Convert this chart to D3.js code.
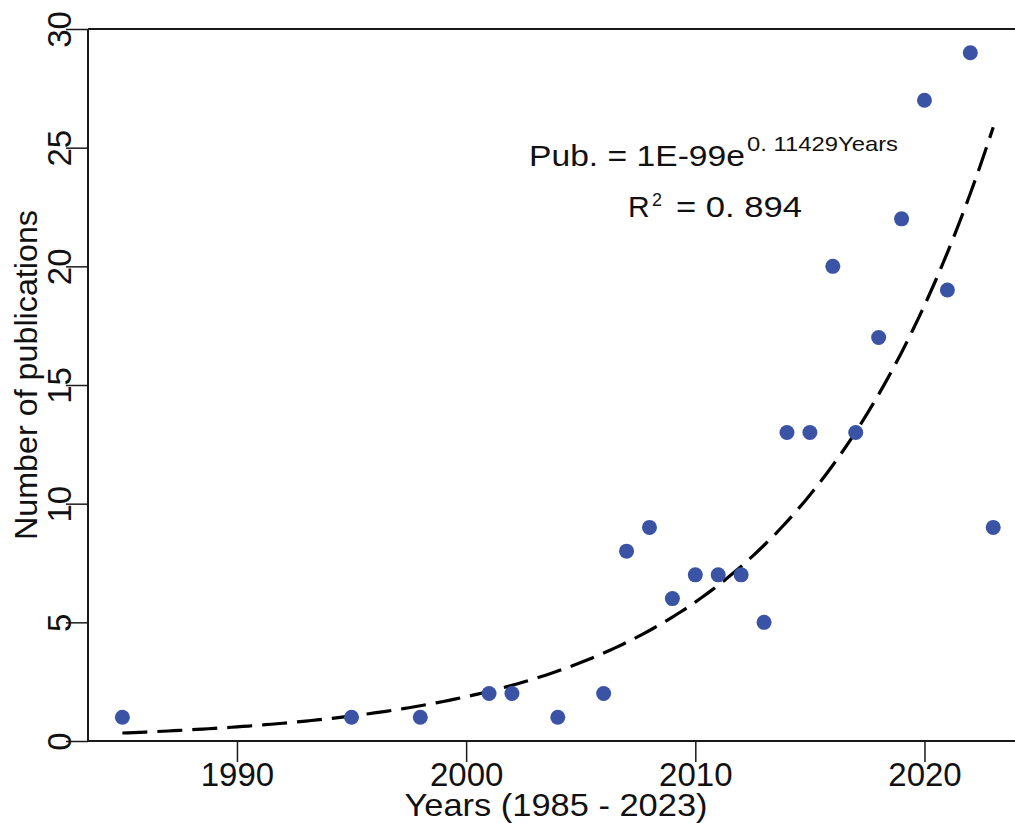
<!DOCTYPE html>
<html>
<head>
<meta charset="utf-8">
<script src="https://cdn.jsdelivr.net/npm/d3@7"></script>
<style>
  html, body { margin: 0; padding: 0; background: #fff; }
  svg { display: block; }
  text { font-family: "Liberation Sans", Arial, sans-serif; fill: #111; }
</style>
</head>
<body>
<svg id="chart" width="1015" height="823"></svg>
<script>
// Publications per year
const years = [1985, 1995, 1998, 2001, 2002, 2004, 2006, 2007, 2008, 2009, 2010, 2011,
               2012, 2013, 2014, 2015, 2016, 2017, 2018, 2019, 2020, 2021, 2022, 2023];
const publications = [1, 1, 1, 2, 2, 1, 2, 8, 9, 6, 7, 7,
                      7, 5, 13, 13, 20, 13, 17, 22, 27, 19, 29, 9];

// Exponential fit: Pub. = a * e^(b * Year)
const fitA = 1e-99;
const fitB = 0.11429;
const fitR2 = 0.894;

const xTicks = [1990, 2000, 2010, 2020];
const yTicks = [0, 5, 10, 15, 20, 25, 30];

const svg = d3.select("#chart");
const plotLeft = 88, plotRight = 1015, plotTop = 29, plotBottom = 741;

const x = d3.scaleLinear().domain([1983.5, 2023.95]).range([plotLeft, plotRight]);
const y = d3.scaleLinear().domain([0, 30]).range([plotBottom, plotTop]);

const axisColor = "#1a1a1a";
const fontStack = "'Liberation Sans', Arial, sans-serif";

// Frame: top edge
svg.append("line")
  .attr("x1", plotLeft).attr("x2", plotRight)
  .attr("y1", plotTop).attr("y2", plotTop)
  .attr("stroke", axisColor).attr("stroke-width", 2);

// X axis
const gx = svg.append("g").attr("transform", `translate(0,${plotBottom})`)
  .call(d3.axisBottom(x).tickValues(xTicks).tickFormat(d3.format("d"))
        .tickSize(21).tickSizeOuter(0));
gx.select(".domain").attr("stroke", axisColor).attr("stroke-width", 2)
  .attr("d", `M${plotLeft},0H${plotRight}`);
gx.selectAll(".tick line").attr("stroke", axisColor).attr("stroke-width", 1.5);
gx.selectAll(".tick text")
  .attr("y", 45).attr("dy", null)
  .style("font-size", "33px").style("font-family", fontStack)
  .attr("fill", "#111");

// Y axis
const gy = svg.append("g").attr("transform", `translate(${plotLeft},0)`)
  .call(d3.axisLeft(y).tickValues(yTicks).tickFormat(d3.format("d"))
        .tickSize(22).tickSizeOuter(0));
gy.select(".domain").attr("stroke", axisColor).attr("stroke-width", 2)
  .attr("d", `M0,${plotTop}V${plotBottom}`);
gy.selectAll(".tick line").attr("stroke", axisColor).attr("stroke-width", 1.5);
gy.selectAll(".tick text")
  .attr("x", null).attr("dy", null)
  .attr("text-anchor", "middle")
  .attr("transform", "translate(-17,0) rotate(-90)")
  .style("font-size", "33px").style("font-family", fontStack)
  .attr("fill", "#111");

// Axis titles
svg.append("text")
  .attr("x", 556).attr("y", 816)
  .attr("text-anchor", "middle")
  .style("font-size", "32px")
  .attr("textLength", 303).attr("lengthAdjust", "spacingAndGlyphs")
  .text("Years (1985 - 2023)");

svg.append("text")
  .attr("transform", "translate(37,375) rotate(-90)")
  .attr("text-anchor", "middle")
  .style("font-size", "32px")
  .attr("textLength", 330).attr("lengthAdjust", "spacingAndGlyphs")
  .text("Number of publications");

// Fitted trend curve
const fitYears = d3.range(1985, 2023.001, 0.25);
const fitLine = d3.line()
  .x(d => x(d))
  .y(d => y(Math.exp(Math.log(fitA) + fitB * d)));
svg.append("path")
  .datum(fitYears)
  .attr("d", fitLine)
  .attr("fill", "none")
  .attr("stroke", "#000")
  .attr("stroke-width", 3.2)
  .attr("stroke-dasharray", "25,10");

// Data points
svg.append("g").selectAll("circle")
  .data(years.map((yr, i) => ({ yr, v: publications[i] })))
  .join("circle")
  .attr("cx", d => x(d.yr))
  .attr("cy", d => y(d.v))
  .attr("r", 7.5)
  .attr("fill", "#3a53a5");

// Equation annotation
svg.append("text")
  .attr("x", 529).attr("y", 166)
  .style("font-size", "30px")
  .attr("textLength", 216).attr("lengthAdjust", "spacingAndGlyphs")
  .text("Pub. = 1E-99e");
svg.append("text")
  .attr("x", 747).attr("y", 151)
  .style("font-size", "21px")
  .attr("textLength", 151).attr("lengthAdjust", "spacingAndGlyphs")
  .text("0. " + String(fitB).split(".")[1] + "Years");

svg.append("text")
  .attr("x", 628).attr("y", 217)
  .style("font-size", "30px")
  .text("R");
svg.append("text")
  .attr("x", 652).attr("y", 206)
  .style("font-size", "18px")
  .text("2");
svg.append("text")
  .attr("x", 676).attr("y", 217)
  .style("font-size", "30px")
  .attr("textLength", 126).attr("lengthAdjust", "spacingAndGlyphs")
  .text("= 0. " + String(fitR2).split(".")[1]);
</script>
</body>
</html>
